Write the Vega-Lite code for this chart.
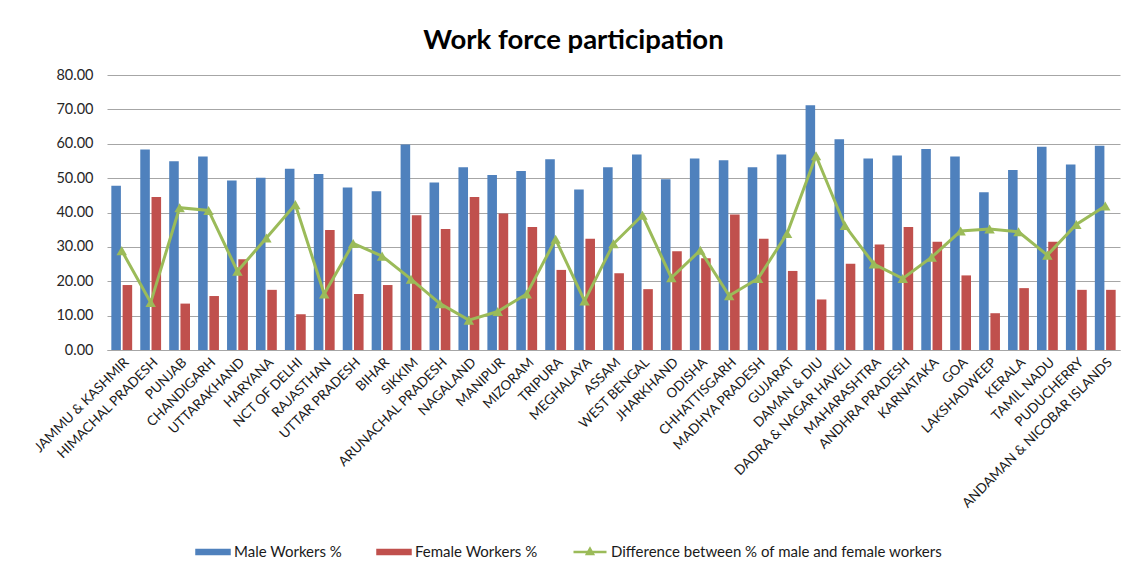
{
  "$schema": "https://vega.github.io/schema/vega-lite/v6.json",
  "autosize": {"type": "none"},
  "width": 1013,
  "height": 275,
  "padding": {"left": 107, "top": 75, "right": 9, "bottom": 219},
  "background": "white",
  "title": {"text": "Work force participation", "fontSize": 27.5, "fontWeight": "bold", "font": "Lato", "color": "#000000", "anchor": "middle", "dx": -40, "offset": 13},
  "config": {"view": {"stroke": null}, "font": "Lato"},
  "data": {"values": [
    {"state": "JAMMU & KASHMIR", "series": "Male Workers %", "value": 47.8},
    {"state": "JAMMU & KASHMIR", "series": "Female Workers %", "value": 18.9},
    {"state": "JAMMU & KASHMIR", "series": "Difference between % of male and female workers", "value": 28.9},
    {"state": "HIMACHAL PRADESH", "series": "Male Workers %", "value": 58.3},
    {"state": "HIMACHAL PRADESH", "series": "Female Workers %", "value": 44.5},
    {"state": "HIMACHAL PRADESH", "series": "Difference between % of male and female workers", "value": 13.8},
    {"state": "PUNJAB", "series": "Male Workers %", "value": 54.9},
    {"state": "PUNJAB", "series": "Female Workers %", "value": 13.5},
    {"state": "PUNJAB", "series": "Difference between % of male and female workers", "value": 41.4},
    {"state": "CHANDIGARH", "series": "Male Workers %", "value": 56.3},
    {"state": "CHANDIGARH", "series": "Female Workers %", "value": 15.7},
    {"state": "CHANDIGARH", "series": "Difference between % of male and female workers", "value": 40.6},
    {"state": "UTTARAKHAND", "series": "Male Workers %", "value": 49.3},
    {"state": "UTTARAKHAND", "series": "Female Workers %", "value": 26.4},
    {"state": "UTTARAKHAND", "series": "Difference between % of male and female workers", "value": 22.9},
    {"state": "HARYANA", "series": "Male Workers %", "value": 50.1},
    {"state": "HARYANA", "series": "Female Workers %", "value": 17.5},
    {"state": "HARYANA", "series": "Difference between % of male and female workers", "value": 32.6},
    {"state": "NCT OF DELHI", "series": "Male Workers %", "value": 52.7},
    {"state": "NCT OF DELHI", "series": "Female Workers %", "value": 10.4},
    {"state": "NCT OF DELHI", "series": "Difference between % of male and female workers", "value": 42.3},
    {"state": "RAJASTHAN", "series": "Male Workers %", "value": 51.2},
    {"state": "RAJASTHAN", "series": "Female Workers %", "value": 34.9},
    {"state": "RAJASTHAN", "series": "Difference between % of male and female workers", "value": 16.3},
    {"state": "UTTAR PRADESH", "series": "Male Workers %", "value": 47.3},
    {"state": "UTTAR PRADESH", "series": "Female Workers %", "value": 16.3},
    {"state": "UTTAR PRADESH", "series": "Difference between % of male and female workers", "value": 31.0},
    {"state": "BIHAR", "series": "Male Workers %", "value": 46.2},
    {"state": "BIHAR", "series": "Female Workers %", "value": 18.9},
    {"state": "BIHAR", "series": "Difference between % of male and female workers", "value": 27.3},
    {"state": "SIKKIM", "series": "Male Workers %", "value": 59.8},
    {"state": "SIKKIM", "series": "Female Workers %", "value": 39.2},
    {"state": "SIKKIM", "series": "Difference between % of male and female workers", "value": 20.6},
    {"state": "ARUNACHAL PRADESH", "series": "Male Workers %", "value": 48.7},
    {"state": "ARUNACHAL PRADESH", "series": "Female Workers %", "value": 35.2},
    {"state": "ARUNACHAL PRADESH", "series": "Difference between % of male and female workers", "value": 13.5},
    {"state": "NAGALAND", "series": "Male Workers %", "value": 53.2},
    {"state": "NAGALAND", "series": "Female Workers %", "value": 44.5},
    {"state": "NAGALAND", "series": "Difference between % of male and female workers", "value": 8.7},
    {"state": "MANIPUR", "series": "Male Workers %", "value": 50.9},
    {"state": "MANIPUR", "series": "Female Workers %", "value": 39.7},
    {"state": "MANIPUR", "series": "Difference between % of male and female workers", "value": 11.2},
    {"state": "MIZORAM", "series": "Male Workers %", "value": 52.1},
    {"state": "MIZORAM", "series": "Female Workers %", "value": 35.8},
    {"state": "MIZORAM", "series": "Difference between % of male and female workers", "value": 16.3},
    {"state": "TRIPURA", "series": "Male Workers %", "value": 55.5},
    {"state": "TRIPURA", "series": "Female Workers %", "value": 23.3},
    {"state": "TRIPURA", "series": "Difference between % of male and female workers", "value": 32.2},
    {"state": "MEGHALAYA", "series": "Male Workers %", "value": 46.7},
    {"state": "MEGHALAYA", "series": "Female Workers %", "value": 32.4},
    {"state": "MEGHALAYA", "series": "Difference between % of male and female workers", "value": 14.3},
    {"state": "ASSAM", "series": "Male Workers %", "value": 53.2},
    {"state": "ASSAM", "series": "Female Workers %", "value": 22.3},
    {"state": "ASSAM", "series": "Difference between % of male and female workers", "value": 30.9},
    {"state": "WEST BENGAL", "series": "Male Workers %", "value": 56.9},
    {"state": "WEST BENGAL", "series": "Female Workers %", "value": 17.7},
    {"state": "WEST BENGAL", "series": "Difference between % of male and female workers", "value": 39.2},
    {"state": "JHARKHAND", "series": "Male Workers %", "value": 49.7},
    {"state": "JHARKHAND", "series": "Female Workers %", "value": 28.7},
    {"state": "JHARKHAND", "series": "Difference between % of male and female workers", "value": 21.0},
    {"state": "ODISHA", "series": "Male Workers %", "value": 55.7},
    {"state": "ODISHA", "series": "Female Workers %", "value": 26.7},
    {"state": "ODISHA", "series": "Difference between % of male and female workers", "value": 29.0},
    {"state": "CHHATTISGARH", "series": "Male Workers %", "value": 55.2},
    {"state": "CHHATTISGARH", "series": "Female Workers %", "value": 39.4},
    {"state": "CHHATTISGARH", "series": "Difference between % of male and female workers", "value": 15.8},
    {"state": "MADHYA PRADESH", "series": "Male Workers %", "value": 53.2},
    {"state": "MADHYA PRADESH", "series": "Female Workers %", "value": 32.4},
    {"state": "MADHYA PRADESH", "series": "Difference between % of male and female workers", "value": 20.8},
    {"state": "GUJARAT", "series": "Male Workers %", "value": 56.9},
    {"state": "GUJARAT", "series": "Female Workers %", "value": 23.0},
    {"state": "GUJARAT", "series": "Difference between % of male and female workers", "value": 33.9},
    {"state": "DAMAN & DIU", "series": "Male Workers %", "value": 71.2},
    {"state": "DAMAN & DIU", "series": "Female Workers %", "value": 14.7},
    {"state": "DAMAN & DIU", "series": "Difference between % of male and female workers", "value": 56.5},
    {"state": "DADRA & NAGAR HAVELI", "series": "Male Workers %", "value": 61.3},
    {"state": "DADRA & NAGAR HAVELI", "series": "Female Workers %", "value": 25.1},
    {"state": "DADRA & NAGAR HAVELI", "series": "Difference between % of male and female workers", "value": 36.2},
    {"state": "MAHARASHTRA", "series": "Male Workers %", "value": 55.7},
    {"state": "MAHARASHTRA", "series": "Female Workers %", "value": 30.7},
    {"state": "MAHARASHTRA", "series": "Difference between % of male and female workers", "value": 25.0},
    {"state": "ANDHRA PRADESH", "series": "Male Workers %", "value": 56.6},
    {"state": "ANDHRA PRADESH", "series": "Female Workers %", "value": 35.8},
    {"state": "ANDHRA PRADESH", "series": "Difference between % of male and female workers", "value": 20.8},
    {"state": "KARNATAKA", "series": "Male Workers %", "value": 58.5},
    {"state": "KARNATAKA", "series": "Female Workers %", "value": 31.5},
    {"state": "KARNATAKA", "series": "Difference between % of male and female workers", "value": 27.0},
    {"state": "GOA", "series": "Male Workers %", "value": 56.3},
    {"state": "GOA", "series": "Female Workers %", "value": 21.7},
    {"state": "GOA", "series": "Difference between % of male and female workers", "value": 34.6},
    {"state": "LAKSHADWEEP", "series": "Male Workers %", "value": 45.9},
    {"state": "LAKSHADWEEP", "series": "Female Workers %", "value": 10.7},
    {"state": "LAKSHADWEEP", "series": "Difference between % of male and female workers", "value": 35.2},
    {"state": "KERALA", "series": "Male Workers %", "value": 52.4},
    {"state": "KERALA", "series": "Female Workers %", "value": 18.0},
    {"state": "KERALA", "series": "Difference between % of male and female workers", "value": 34.4},
    {"state": "TAMIL NADU", "series": "Male Workers %", "value": 59.1},
    {"state": "TAMIL NADU", "series": "Female Workers %", "value": 31.5},
    {"state": "TAMIL NADU", "series": "Difference between % of male and female workers", "value": 27.6},
    {"state": "PUDUCHERRY", "series": "Male Workers %", "value": 54.0},
    {"state": "PUDUCHERRY", "series": "Female Workers %", "value": 17.5},
    {"state": "PUDUCHERRY", "series": "Difference between % of male and female workers", "value": 36.5},
    {"state": "ANDAMAN & NICOBAR ISLANDS", "series": "Male Workers %", "value": 59.4},
    {"state": "ANDAMAN & NICOBAR ISLANDS", "series": "Female Workers %", "value": 17.5},
    {"state": "ANDAMAN & NICOBAR ISLANDS", "series": "Difference between % of male and female workers", "value": 41.9}
  ]},
  "encoding": {
    "x": {
      "field": "state", "type": "nominal", "sort": null,
      "scale": {"paddingInner": 0.28, "paddingOuter": 0.15},
      "axis": {"title": null, "labelAngle": -45, "labelFontSize": 13.5, "labelColor": "#1a1a1a", "labelFont": "Lato", "domainColor": "#a6a6a6", "ticks": false, "labelPadding": 5, "labelLimit": 400, "grid": false}
    },
    "y": {
      "field": "value", "type": "quantitative",
      "scale": {"domain": [0, 80], "nice": false},
      "axis": {"title": null, "values": [0, 10, 20, 30, 40, 50, 60, 70, 80], "format": ".2f", "labelFontSize": 14.5, "labelColor": "#262626", "labelFont": "Lato", "labelPadding": 14, "ticks": false, "domain": false, "gridColor": "#a6a6a6", "gridWidth": 1}
    },
    "color": {
      "field": "series", "type": "nominal",
      "scale": {"domain": ["Male Workers %", "Female Workers %", "Difference between % of male and female workers"], "range": ["#4F81BD", "#C0504D", "#9BBB59"]},
      "legend": {
        "title": null, "orient": "none", "direction": "horizontal", "legendX": 88, "legendY": 459,
        "labelFontSize": 15, "labelColor": "#1a1a1a", "labelFont": "Lato", "columnPadding": 30, "labelOffset": 3, "labelLimit": 600,
        "symbolSize": 1089, "symbolOpacity": 1,
        "encode": {"symbols": {"update": {
          "shape": {"signal": "datum.value === 'Difference between % of male and female workers' ? 'M-1,0H1M-0.18,0.12L0,-0.2L0.18,0.12Z' : 'M-1,-0.125H1V0.125H-1Z'"},
          "strokeWidth": {"value": 2.5},
          "stroke": {"signal": "datum.value === 'Difference between % of male and female workers' ? '#9BBB59' : null"}
        }}}
      }
    }
  },
  "layer": [
    {
      "transform": [{"filter": "datum.series !== 'Difference between % of male and female workers'"}],
      "mark": {"type": "bar"},
      "encoding": {
        "xOffset": {"field": "series", "type": "nominal", "sort": ["Male Workers %", "Female Workers %"], "scale": {"domain": ["Male Workers %", "Female Workers %"], "paddingInner": 0.15}}
      }
    },
    {
      "transform": [{"filter": "datum.series === 'Difference between % of male and female workers'"}],
      "mark": {"type": "line", "strokeWidth": 3}
    },
    {
      "transform": [{"filter": "datum.series === 'Difference between % of male and female workers'"}],
      "mark": {"type": "point", "shape": "triangle-up", "filled": true, "size": 110, "opacity": 1}
    }
  ]
}
